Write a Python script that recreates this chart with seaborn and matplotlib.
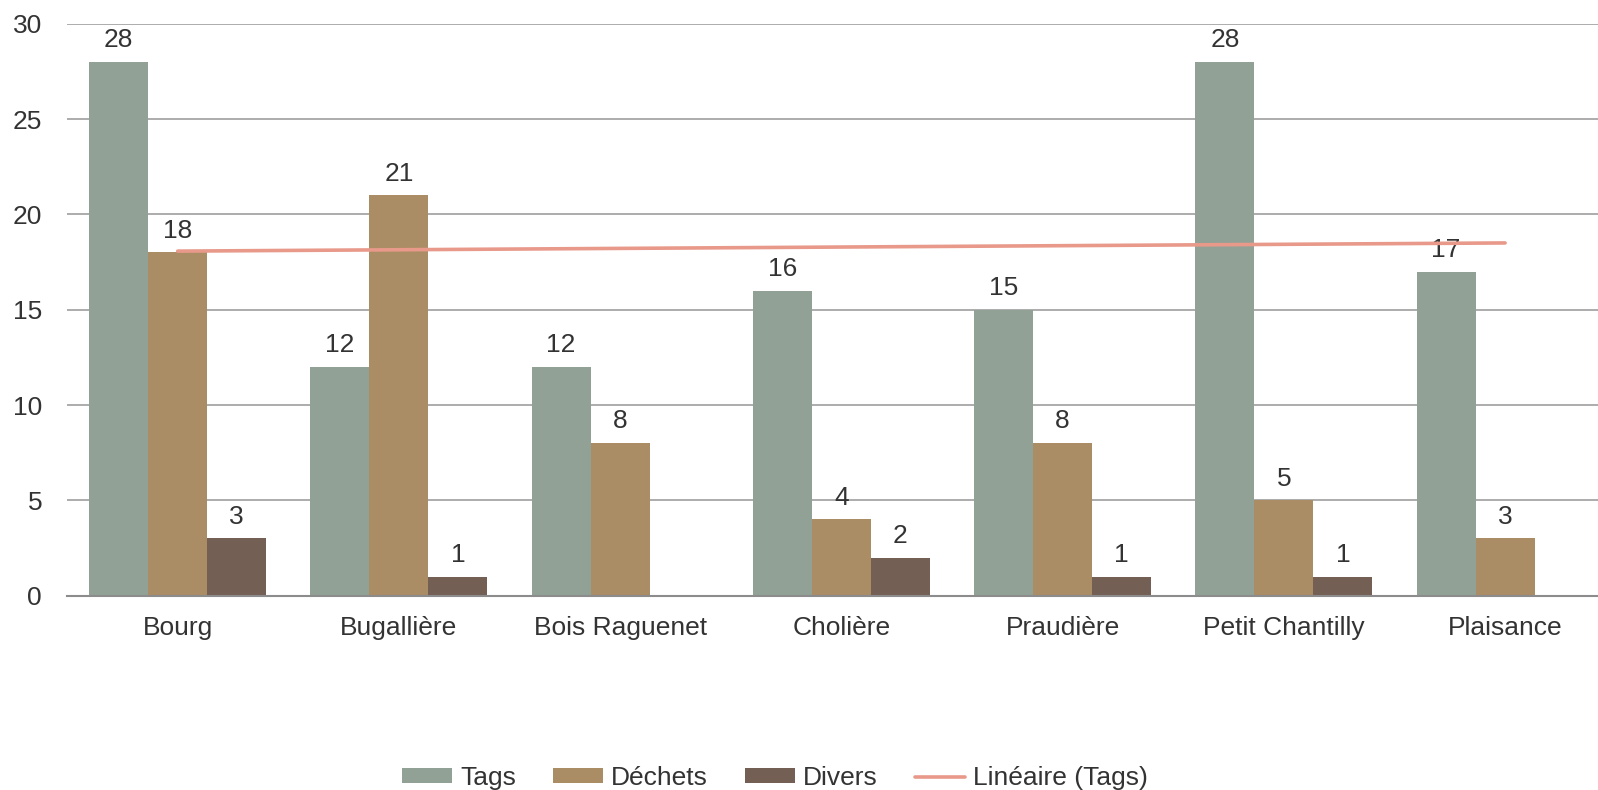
import numpy as np
import pandas as pd
import matplotlib
matplotlib.use("Agg")
import matplotlib.pyplot as plt
import seaborn as sns

# data
lieux = ["Bourg", "Bugallière", "Bois Raguenet", "Cholière", "Praudière", "Petit Chantilly", "Plaisance"]
tags = [28, 12, 12, 16, 15, 28, 17]
dechets = [18, 21, 8, 4, 8, 5, 3]
divers = [3, 1, np.nan, 2, 1, 1, np.nan]
series = ["Tags", "Déchets", "Divers"]
colors = ["#92A195", "#AB8D65", "#735F54"]

df = pd.DataFrame({"Lieu": lieux, "Tags": tags, "Déchets": dechets, "Divers": divers})
df_long = df.melt(id_vars="Lieu", var_name="Type", value_name="Nombre")

sns.set_theme(style="white")
plt.rcParams["font.family"] = ["Liberation Sans", "DejaVu Sans"]

fig = plt.figure(figsize=(15.98, 7.90), dpi=100)
ax = fig.add_axes([0.042, 0.246, 0.958, 0.724])

sns.barplot(data=df_long, x="Lieu", y="Nombre", hue="Type", hue_order=series,
            order=lieux, palette=colors, width=0.8, saturation=1, linewidth=0,
            ax=ax)

for cont in ax.containers:
    ax.bar_label(cont, fmt="%d", padding=7, fontsize=19, color="#333333")

# linear trendline on Tags (like Excel)
x = np.arange(len(lieux))
slope, intercept = np.polyfit(x, tags, 1)
ax.plot(x, slope * x + intercept, color="#E8998A", lw=2.6, zorder=5,
        label="Linéaire (Tags)", solid_capstyle="round")

ax.set_ylim(0, 30)
ax.set_yticks(range(0, 31, 5))
ax.set_xlim(-0.5, 6.42)
ax.yaxis.grid(True, color="#A6A6A6", lw=1.3)
ax.set_axisbelow(True)
for s in ax.spines.values():
    s.set_visible(False)
ax.spines["bottom"].set_visible(True)
ax.spines["bottom"].set_color("#8C8C8C")
ax.spines["bottom"].set_linewidth(1.5)
ax.tick_params(axis="both", length=0, labelsize=19, colors="#333333")
ax.tick_params(axis="x", pad=15)
ax.tick_params(axis="y", pad=18)
ax.set_xlabel("")
ax.set_ylabel("")

handles, labels = ax.get_legend_handles_labels()
ax.get_legend().remove()
fig.legend(handles, labels, loc="lower center", bbox_to_anchor=(0.485, -0.03),
           ncol=4, frameon=False, fontsize=19, handlelength=1.9,
           handleheight=0.5, columnspacing=1.4, handletextpad=0.3,
           labelcolor="#333333")

fig.savefig("out.png", dpi=100)
